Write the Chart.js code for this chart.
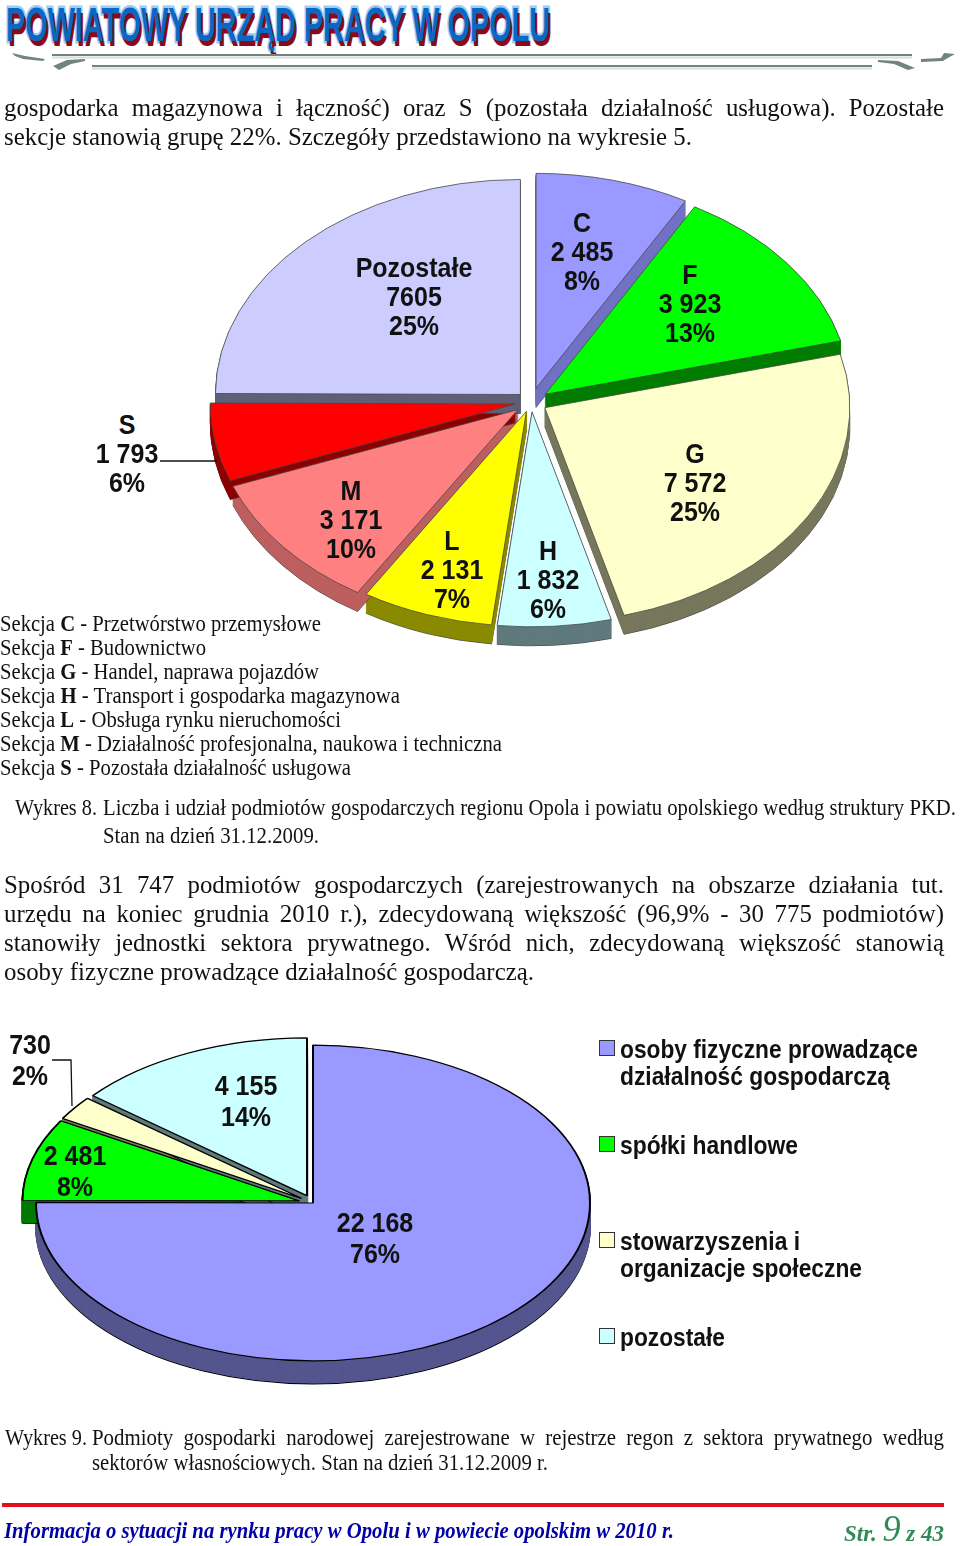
<!DOCTYPE html>
<html lang="pl">
<head>
<meta charset="utf-8">
<title>Powiatowy Urząd Pracy w Opolu</title>
<script src="https://cdn.jsdelivr.net/npm/chart.js@4"></script>
<style>
  html, body { margin: 0; background: #fff; }
  #page { position: relative; width: 960px; height: 1546px; overflow: hidden; }
  #page canvas { position: absolute; }
  .t { position: absolute; white-space: nowrap; transform-origin: left center; color: #111; font-family: "Liberation Serif", serif; }
  .sans { font-family: "Liberation Sans", Arial, sans-serif; }
</style>
</head>
<body>
<div id="page">
  <canvas id="pie1" width="760" height="600" style="left:151px; top:102px; width:760px; height:600px"></canvas>
  <canvas id="pie2" width="700" height="460" style="left:-37px; top:973px; width:700px; height:460px"></canvas>
</div>
<script>
// wykres 8 - sekcje PKD
const pie1Labels = ["C", "F", "G", "H", "L", "M", "S", "Pozostałe"];
const pie1Values = [2485, 3923, 7572, 1832, 2131, 3171, 1793, 7605];
const pie1ValueText = ["2 485", "3 923", "7 572", "1 832", "2 131", "3 171", "1 793", "7605"];
const pie1Percent = ["8%", "13%", "25%", "6%", "7%", "10%", "6%", "25%"];
const pie1Colors = ["#9999ff", "#00ff00", "#ffffcc", "#ccffff", "#ffff00", "#ff8080", "#ff0000", "#ccccff"];
const pie1Walls = ["#7272c4", "#007d00", "#77775c", "#5f7a7c", "#8a8a00", "#bd5f5f", "#8c0000", "#5f5f78"];
const pie1Explode = [20, 18, 16, 14, 14, 17, 16, 15];
const pie1LabelX = [582, 690, 695, 548, 452, 351, 127, 414];
const pie1LabelY = [222, 274, 453, 550, 540, 490, 424, 267];

// wykres 9 - sektory wlasnosciowe
const pie2Labels = ["osoby fizyczne prowadzące działalność gospodarczą", "spółki handlowe", "stowarzyszenia i organizacje społeczne", "pozostałe"];
const pie2Values = [22168, 2481, 730, 4155];
const pie2ValueText = ["22 168", "2 481", "730", "4 155"];
const pie2Percent = ["76%", "8%", "2%", "14%"];
const pie2Colors = ["#9999ff", "#00ff00", "#ffffcc", "#ccffff"];
const pie2Walls = ["#55558f", "#007a00", "#7c7c63", "#627a7a"];
const pie2Explode = [0, 14, 14, 14];
const pie2LabelX = [375, 75, 30, 246];
const pie2LabelY = [1222, 1155, 1044, 1085];

const sekcje = [
  ["C", " - Przetwórstwo przemysłowe", 321],
  ["F", " - Budownictwo", 206],
  ["G", " - Handel, naprawa pojazdów", 319],
  ["H", " - Transport i gospodarka magazynowa", 400],
  ["L", " - Obsługa rynku nieruchomości", 341],
  ["M", " - Działalność profesjonalna, naukowa i techniczna", 502],
  ["S", " - Pozostała działalność usługowa", 351]
];

const page = document.getElementById("page");

// tekst strony: w = docelowa szerokosc, just = wyjustowany
function put(html, x, y, size, o = {}) {
  const d = document.createElement("div");
  d.className = "t " + (o.cls || "");
  d.innerHTML = html;
  d.style.left = x + "px";
  d.style.top = (y - size * 0.6) + "px";
  d.style.lineHeight = (size * 1.2) + "px";
  d.style.fontSize = size + "px";
  if (o.color) d.style.color = o.color;
  if (o.weight) d.style.fontWeight = o.weight;
  if (o.italic) d.style.fontStyle = "italic";
  if (o.family) d.style.fontFamily = o.family;
  const sy = o.sy || 1.14;
  page.appendChild(d);
  if (o.just) {
    const sx = o.sx || 1.06;
    d.style.width = (o.w / sx) + "px";
    d.style.whiteSpace = "normal";
    d.style.textAlign = "justify";
    d.style.textAlignLast = "justify";
    d.style.transform = `scale(${sx}, ${sy})`;
  } else if (o.w) {
    d.style.transform = `scale(${o.w / d.getBoundingClientRect().width}, ${sy})`;
  } else {
    d.style.transform = `scaleY(${sy})`;
  }
  return d;
}

const pie3d = {
  id: "pie3d",
  beforeDatasetsDraw(chart, args, opts) {
    const ctx = chart.ctx;
    const arcs = chart.getDatasetMeta(0).data;
    const cx = chart.chartArea.left + chart.chartArea.width / 2;
    const cy = chart.chartArea.top + chart.chartArea.height / 2;
    // wysuniecie wycinkow
    arcs.forEach((arc, i) => {
      const mid = (arc.startAngle + arc.endAngle) / 2;
      arc.x = cx + Math.cos(mid) * opts.explode[i];
      arc.y = cy + Math.sin(mid) * opts.explode[i];
    });
    ctx.save();
    ctx.translate(cx, cy);
    ctx.scale(1, opts.ratio);
    ctx.translate(-cx, -cy);
    // boczne scianki
    arcs.forEach((arc, i) => {
      const own = arc.options;
      for (let d = opts.depth; d > 0; d--) {
        ctx.save();
        ctx.translate(0, d / opts.ratio);
        arc.options = Object.assign({}, own, {
          backgroundColor: opts.walls[i],
          borderColor: d === opts.depth ? own.borderColor : opts.walls[i]
        });
        arc.draw(ctx);
        ctx.restore();
      }
      arc.options = own;
    });
  },
  afterDatasetsDraw(chart) {
    chart.ctx.restore();
  }
};

function makePie(id, labels, values, colors, cfg) {
  return new Chart(document.getElementById(id), {
    type: "pie",
    data: {
      labels,
      datasets: [{
        data: values,
        backgroundColor: colors,
        borderColor: cfg.border,
        borderWidth: cfg.borderWidth,
        hoverOffset: 0
      }]
    },
    options: {
      responsive: false,
      animation: false,
      events: [],
      radius: cfg.radius,
      plugins: {
        legend: { display: false },
        tooltip: { enabled: false },
        pie3d: cfg
      }
    },
    plugins: [pie3d]
  });
}

makePie("pie1", pie1Labels, pie1Values, pie1Colors, {
  radius: 305, ratio: 0.705, depth: 19, explode: pie1Explode, walls: pie1Walls, border: "#444", borderWidth: 0.9
});
makePie("pie2", pie2Labels, pie2Values, pie2Colors, {
  radius: 277, ratio: 0.57, depth: 23, explode: pie2Explode, walls: pie2Walls, border: "#000", borderWidth: 2
});

// naglowek
const header = put("POWIATOWY URZĄD PRACY W OPOLU", 6, 25, 44, {
  w: 544, sy: 1.1, weight: "bold", color: "#0a68c4", family: "'Liberation Sans Narrow','Liberation Sans',sans-serif"
});
header.style.webkitTextStroke = "4.5px #9ccdf6";
header.style.paintOrder = "stroke fill";
header.style.textShadow = "3px 4px 0 #8c0a18";

// ozdobne linie pod naglowkiem
const ornament = document.createElementNS("http://www.w3.org/2000/svg", "svg");
ornament.setAttribute("width", 960);
ornament.setAttribute("height", 80);
ornament.style.cssText = "position:absolute;left:0;top:0";
ornament.innerHTML = `
  <path d="M52 57.5H912M92 68.5H872" stroke="#d8dedc" stroke-width="2"/>
  <path d="M52 55H912M92 66H872" stroke="#6f857d" stroke-width="2"/>
  <path d="M12 53l13 3 20 3-2 2-20-2-8-3zM921 59l20-1 3-5 11 1-9 5-3 2-22 1zM53 66l14-6 18-1 0 2-14 3-12 6zM878 60l20 1 17 7-7 2-14-6-16-2z" fill="#6f857d"/>`;
page.appendChild(ornament);

const BODY = 23;
put("gospodarka magazynowa i łączność) oraz S (pozostała działalność usługowa). Pozostałe", 4, 108, BODY, { just: true, w: 940, sx: 1.08 });
put("sekcje stanowią grupę 22%. Szczegóły przedstawiono na wykresie 5.", 4, 137, BODY, { w: 688 });

// etykiety wycinkow
const LABEL = 25;
pie1Labels.forEach((name, i) => {
  [name, pie1ValueText[i], pie1Percent[i]].forEach((s, k) => {
    const d = put(s, pie1LabelX[i], pie1LabelY[i] + k * 29, LABEL, { cls: "sans", weight: "bold", sy: 1.12 });
    d.style.transform += " translateX(-50%)";
  });
});
pie2Labels.forEach((name, i) => {
  [pie2ValueText[i], pie2Percent[i]].forEach((s, k) => {
    const d = put(s, pie2LabelX[i], pie2LabelY[i] + k * 31, LABEL, { cls: "sans", weight: "bold", sy: 1.12 });
    d.style.transform += " translateX(-50%)";
  });
});

// linie odniesienia
function leader(points) {
  const s = document.createElementNS("http://www.w3.org/2000/svg", "svg");
  s.setAttribute("width", 960);
  s.setAttribute("height", 1546);
  s.style.cssText = "position:absolute;left:0;top:0;pointer-events:none";
  s.innerHTML = `<polyline points="${points}" fill="none" stroke="#111" stroke-width="1.3"/>`;
  page.appendChild(s);
}
leader("160,461 217,461");
leader("52,1060 71,1060 72,1106");

// opis sekcji
sekcje.forEach(([sym, rest, w], i) => {
  put(`Sekcja <b>${sym}</b>${rest}`, 0, 624 + i * 24, 19.5, { w });
});

put("Wykres 8.", 15, 808, 19.5, { w: 82 });
put("Liczba i udział podmiotów gospodarczych regionu Opola i powiatu opolskiego według struktury PKD.", 103, 808, 19.5, { w: 853 });
put("Stan na dzień 31.12.2009.", 103, 836, 19.5, { w: 216 });

put("Spośród 31 747 podmiotów gospodarczych (zarejestrowanych na obszarze działania tut.", 4, 885, BODY, { just: true, w: 940, sx: 1.08 });
put("urzędu na koniec grudnia 2010 r.), zdecydowaną większość (96,9% - 30 775 podmiotów)", 4, 914, BODY, { just: true, w: 940, sx: 1.08 });
put("stanowiły jednostki sektora prywatnego. Wśród nich, zdecydowaną większość stanowią", 4, 943, BODY, { just: true, w: 940, sx: 1.08 });
put("osoby fizyczne prowadzące działalność gospodarczą.", 4, 972, BODY, { w: 530 });

// legenda wykresu 9
const legendText = [
  [["osoby fizyczne prowadzące", 298], ["działalność gospodarczą", 270]],
  [["spółki handlowe", 178]],
  [["stowarzyszenia i", 180], ["organizacje społeczne", 242]],
  [["pozostałe", 105]]
];
legendText.forEach((lines, i) => {
  const y = 1049 + i * 96;
  const box = document.createElement("div");
  box.style.cssText = `position:absolute;left:599px;top:${y - 9}px;width:14px;height:14px;border:1.5px solid #333;background:${pie2Colors[i]}`;
  page.appendChild(box);
  lines.forEach(([s, w], k) => {
    put(s, 620, y + k * 27, 23.5, { cls: "sans", weight: "bold", w, sy: 1.1 });
  });
});

put("Wykres 9.", 5, 1438, 19.5, { w: 82 });
put("Podmioty gospodarki narodowej zarejestrowane w rejestrze regon z sektora prywatnego według", 92, 1438, 19.5, { just: true, w: 852, sx: 1.07 });
put("sektorów własnościowych. Stan na dzień 31.12.2009 r.", 92, 1463, 19.5, { w: 456 });

// stopka
const rule = document.createElement("div");
rule.style.cssText = "position:absolute;left:2px;top:1503px;width:942px;height:4px;background:#e2101c";
page.appendChild(rule);
put("Informacja o sytuacji na rynku pracy w Opolu i w powiecie opolskim w 2010 r.", 4, 1531, 21, { w: 670, weight: "bold", italic: true, color: "#0000a8" });
put('Str. <span style="font-size:33px;font-weight:normal">9</span> z 43', 844, 1530, 21, { w: 100, weight: "bold", italic: true, color: "#2e8b57" });
</script>
</body>
</html>
